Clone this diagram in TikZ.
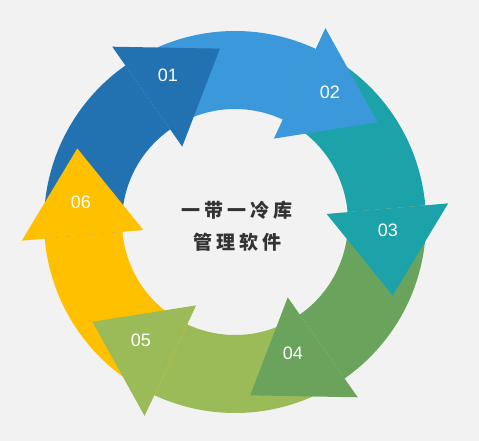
\documentclass[tikz,border=0pt]{standalone}
\usepackage{fontspec}
\setmainfont{Liberation Sans}
\newfontfamily\cjk{Noto Sans CJK SC}
\usepackage{tikz}
\usetikzlibrary{positioning}

\definecolor{bgcol}{HTML}{F2F2F2}
\definecolor{c01}{HTML}{2271B1}
\definecolor{c02}{HTML}{3A98DB}
\definecolor{c03}{HTML}{1CA3A9}
\definecolor{c04}{HTML}{6AA35C}
\definecolor{c05}{HTML}{9BBB59}
\definecolor{c06}{HTML}{FFC000}
\newcommand{\cjkgap}{\hspace{4pt}}

\begin{document}
\begin{tikzpicture}[
    x=1pt, y=1pt,
    numlabel/.style={text=white, font=\fontsize{18}{18}\selectfont},
    title/.style={text=black!80, font=\cjk\bfseries\fontsize{19}{32}\selectfont, align=center}
]
    \useasboundingbox[fill=bgcol] (-235,-219) rectangle (244,222);

    % --- Ring: one band per step ---
    \foreach \a/\c in {125/c01, 65/c02, 5/c03, -55/c04, -115/c05, -175/c06}
        \fill[\c] (\a+60:191) arc[start angle=\a+60, end angle=\a, radius=191]
            -- (\a:113) arc[start angle=\a, end angle=\a+60, radius=113] -- cycle;

    % --- Heads (on top of the next band) ---
    \foreach \a/\c in {125/c01, 65/c02, 5/c03, -55/c04, -115/c05, -175/c06}
        \fill[\c] (\a:92) -- (\a:214) -- (\a-30:174) -- cycle;

    % --- Step numbers ---
    \node[numlabel] (n01) at (-67,147) {01};
    \node[numlabel] (n02) at (95,130) {02};
    \node[numlabel] (n03) at (153,-8) {03};
    \node[numlabel] (n04) at (58,-131) {04};
    \node[numlabel] (n05) at (-94,-118) {05};
    \node[numlabel] (n06) at (-154,20) {06};

    % --- Centre title ---
    \node[title] (title) at (2.5,-4) {一\cjkgap 带\cjkgap 一\cjkgap 冷\cjkgap 库\\管\cjkgap 理\cjkgap 软\cjkgap 件};

\end{tikzpicture}
\end{document}
